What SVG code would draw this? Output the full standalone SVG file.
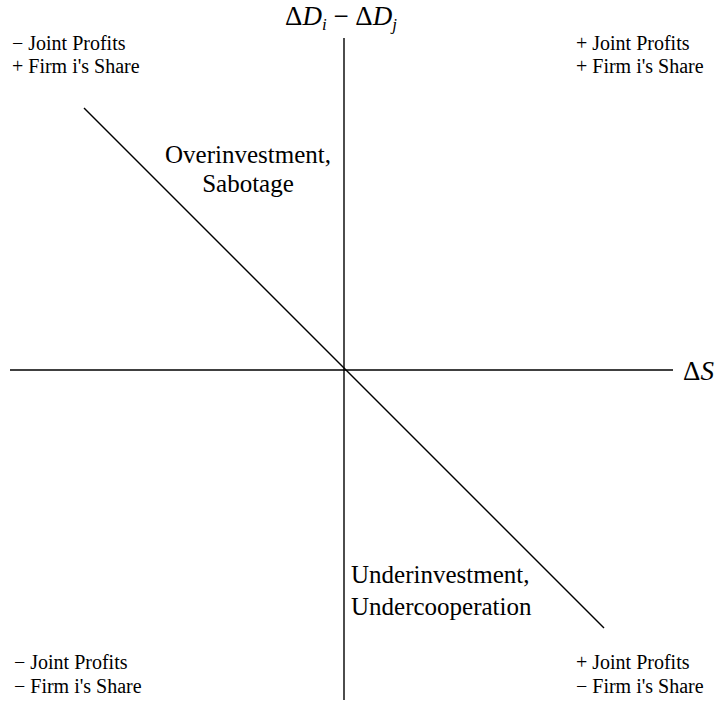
<svg xmlns="http://www.w3.org/2000/svg" width="716" height="703" viewBox="0 0 716 703">
<style>
.ax{stroke:#000;stroke-width:1.4;fill:none}
.lbl{font-family:"Liberation Serif",serif;font-size:20px;fill:#000}
.reg{font-family:"Liberation Serif",serif;font-size:25px;fill:#000}
.math{font-family:"Liberation Serif",serif;font-size:27px;fill:#000}
</style>
<rect width="716" height="703" fill="#fff"/>
<g id="connectors">
<line class="ax" x1="344" y1="38" x2="344" y2="700"/>
<line class="ax" x1="10" y1="370" x2="673" y2="370"/>
<line class="ax" x1="84" y1="108" x2="604" y2="628"/>
</g>
<g id="y-axis-label"><text class="math" x="341" y="25" text-anchor="middle">Δ<tspan font-style="italic">D</tspan><tspan font-style="italic" font-size="17" dy="5">i</tspan><tspan dy="-5"> − Δ</tspan><tspan font-style="italic">D</tspan><tspan font-style="italic" font-size="17" dy="5">j</tspan></text></g>
<g id="x-axis-label"><text class="math" x="683" y="380">Δ<tspan font-style="italic">S</tspan></text></g>
<g id="q2"><text class="lbl" x="12" y="50">− Joint Profits</text><text class="lbl" x="12" y="73">+ Firm i's Share</text></g>
<g id="q1"><text class="lbl" x="576" y="50">+ Joint Profits</text><text class="lbl" x="576" y="73">+ Firm i's Share</text></g>
<g id="q3"><text class="lbl" x="14" y="669">− Joint Profits</text><text class="lbl" x="14" y="693">− Firm i's Share</text></g>
<g id="q4"><text class="lbl" x="576" y="669">+ Joint Profits</text><text class="lbl" x="576" y="693">− Firm i's Share</text></g>
<g id="over"><text class="reg" x="248" y="163" text-anchor="middle">Overinvestment,</text><text class="reg" x="248" y="192" text-anchor="middle">Sabotage</text></g>
<g id="under"><text class="reg" x="351" y="583">Underinvestment,</text><text class="reg" x="351" y="615">Undercooperation</text></g>
</svg>
